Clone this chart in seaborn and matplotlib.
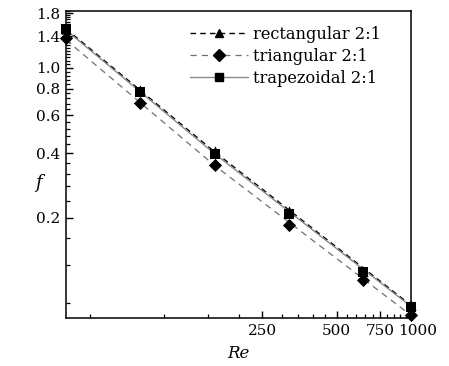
import numpy as np
import pandas as pd
import matplotlib
matplotlib.use("Agg")
import matplotlib.pyplot as plt
import matplotlib.transforms as mtransforms
from matplotlib.lines import Line2D
import seaborn as sns

# ---- data ----
re_pts = [40, 80, 160, 320, 640, 1000]
f_rect = [1.52, 0.79, 0.41, 0.214, 0.113, 0.078]
f_tri = [1.38, 0.686, 0.353, 0.184, 0.102, 0.070]
f_trap = [1.51, 0.77, 0.395, 0.207, 0.111, 0.0766]

re_fit = [40, 160, 1000]
fit_rect = [1.52, 0.405, 0.078]
fit_tri = [1.35, 0.35, 0.070]
fit_trap = [1.50, 0.397, 0.077]

labels = ["rectangular 2:1", "triangular 2:1", "trapezoidal 2:1"]
ytick_major = [0.2, 0.4, 0.6, 0.8, 1.0, 1.4, 1.8]
ytick_labels = ["0.2", "0.4", "0.6", "0.8", "1.0", "1.4", "1.8"]
xtick_major = [250, 500, 750, 1000]
xtick_labels = ["250", "500", "750", "1000"]

sns.set_style("ticks")
plt.rcParams["font.family"] = ["DejaVu Serif"]
plt.rcParams["mathtext.fontset"] = "dejavuserif"
plt.rcParams["text.color"] = "black"
plt.rcParams["axes.labelcolor"] = "black"
plt.rcParams["xtick.color"] = "black"
plt.rcParams["ytick.color"] = "black"

fig = plt.figure(figsize=(4.49, 3.66), dpi=100)
ax = fig.add_axes([66 / 449, 1 - 318 / 366, (411 - 66) / 449, (318 - 11) / 366])

styles = [
    dict(color="black", ls=(0, (4, 3)), marker="^", lw=1.0),
    dict(color="#707070", ls=(0, (5, 4)), marker="D", lw=0.9),
    dict(color="#8a8a8a", ls="-", marker="s", lw=1.0),
]
fits = [fit_rect, fit_tri, fit_trap]
pts = [f_rect, f_tri, f_trap]

for lab, st, fv in zip(labels, styles, fits):
    dfl = pd.DataFrame({"Re": re_fit, "f": fv})
    sns.lineplot(data=dfl, x="Re", y="f", ax=ax, color=st["color"],
                 linestyle=st["ls"], lw=st["lw"], legend=False)
for lab, st, pv in zip(labels, styles, pts):
    dfp = pd.DataFrame({"Re": re_pts, "f": pv})
    ms = 45 if st["marker"] == "D" else 55
    sns.scatterplot(data=dfp, x="Re", y="f", ax=ax, marker=st["marker"],
                    color="black", edgecolor="black", s=ms, linewidth=0,
                    legend=False, clip_on=False, zorder=5)

ax.set_xscale("log")
ax.set_yscale("log")
ax.set_xlim(40, 1000)
ax.set_ylim(0.068, 1.84)

ax.set_xticks(xtick_major)
ax.set_xticklabels(xtick_labels)
ax.set_xticks(np.arange(50, 1000, 50), minor=True)
ax.set_yticks(ytick_major)
ax.set_yticklabels(ytick_labels)
ax.set_yticks([v for v in np.arange(0.08, 1.85, 0.04)
               if min(abs(v - m) for m in ytick_major) > 1e-6], minor=True)
ax.yaxis.set_minor_formatter(matplotlib.ticker.NullFormatter())
ax.xaxis.set_minor_formatter(matplotlib.ticker.NullFormatter())

ax.tick_params(which="both", direction="in", top=False, right=False,
               labelsize=11, color="black", labelcolor="black")
ax.tick_params(which="major", length=5, width=1.0, pad=4)
ax.tick_params(which="minor", length=3, width=0.9)
for sp in ax.spines.values():
    sp.set_linewidth(1.1)
    sp.set_color("black")

# shift the last x label a little to the right, as in the reference
lbl = ax.get_xticklabels()[-1]
lbl.set_transform(lbl.get_transform() +
                  mtransforms.ScaledTranslation(7 / 100, 0, fig.dpi_scale_trans))

ax.set_xlabel("Re", fontstyle="italic", fontsize=12, labelpad=5, color="black")
ax.set_ylabel("f", fontstyle="italic", fontsize=13, rotation=0, color="black")
ax.yaxis.set_label_coords(-0.08, 0.41)

handles = [Line2D([], [], color=st["color"], ls=st["ls"], lw=st["lw"],
                  marker=st["marker"], markerfacecolor="black",
                  markeredgecolor="black", markersize=6)
           for st in styles]
leg = ax.legend(handles, labels, loc="upper right", frameon=False, fontsize=11.7,
                handlelength=3.6, handletextpad=0.3, labelspacing=0.3,
                bbox_to_anchor=(0.932, 0.972), borderaxespad=0)
for t in leg.get_texts():
    t.set_color("black")

fig.savefig("out.png", dpi=100)
